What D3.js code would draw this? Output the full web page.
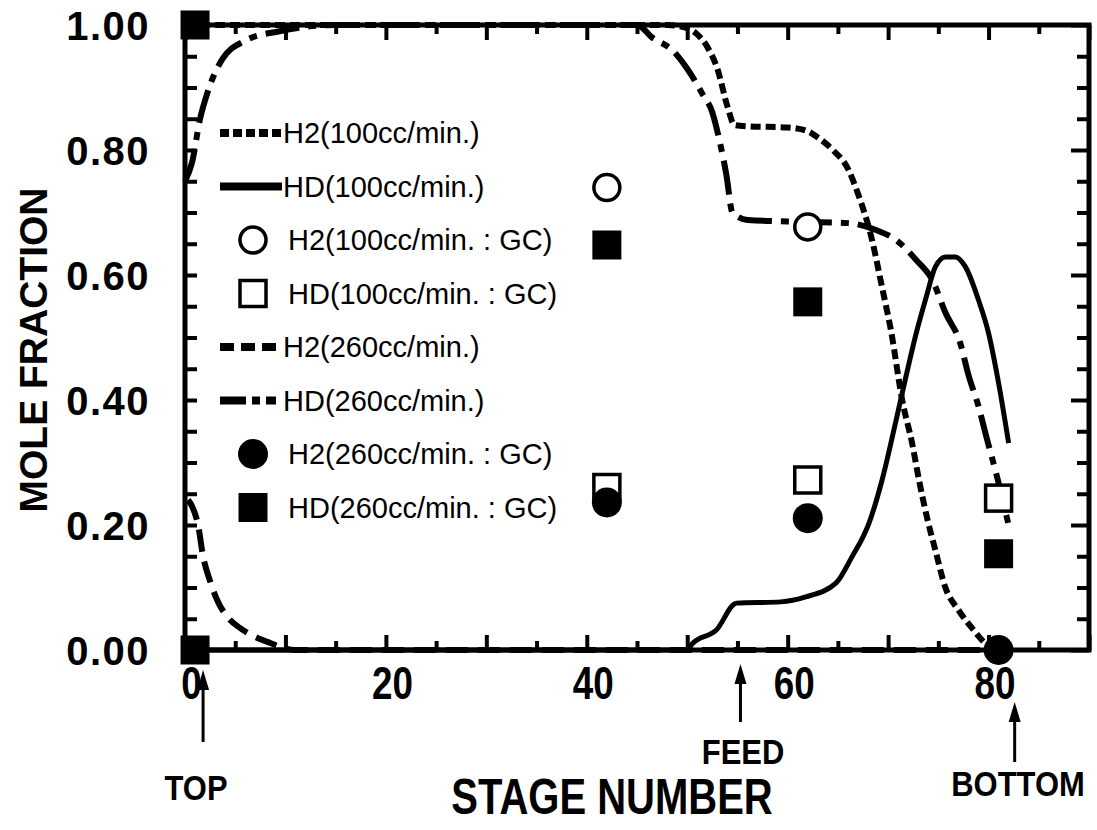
<!DOCTYPE html>
<html>
<head>
<meta charset="utf-8">
<script src="https://cdn.jsdelivr.net/npm/d3@7"></script>
<style>
  body { margin: 0; background: #fff; }
</style>
</head>
<body>
<script>
// curves: [stage, mole fraction]
var h2_100 = [[0,1],[10,1],[20,1],[30,1],[40,1],[48,1],[50,0.995],[51,0.985],[52,0.965],[53,0.93],[54,0.87],[54.7,0.84],
  [56,0.838],[60,0.836],[62,0.83],[63,0.82],[64.5,0.8],[66,0.77],[67,0.73],[68.4,0.656],[69.4,0.58],[70.3,0.51],
  [71.4,0.4],[72.4,0.33],[73.1,0.27],[73.9,0.21],[74.7,0.16],[75.7,0.1],[77,0.064],[78.5,0.032],[79.7,0.01],[80.5,0]];
var hd_100 = [[0,0],[50,0],[50.5,0.01],[52.9,0.032],[54.9,0.075],[59.3,0.077],[61.8,0.085],[64.8,0.107],[66.4,0.149],
  [68.1,0.203],[69.4,0.272],[70.8,0.368],[71.7,0.432],[72.8,0.507],[73.8,0.565],[74.7,0.613],[75.7,0.629],[76.7,0.629],
  [77.7,0.613],[79,0.56],[80,0.507],[81,0.427],[82,0.331]];
var h2_260 = [[0.3,0.24],[0.7,0.23],[1.3,0.2],[1.8,0.15],[2.5,0.11],[3.2,0.08],[4.5,0.048],[5.5,0.035],[8.2,0.013],
  [11,0],[20,0],[30,0],[40,0],[50,0],[60,0],[70,0],[81,0]];
var hd_260 = [[0,0.75],[0.7,0.78],[1.5,0.85],[2.2,0.89],[3.7,0.945],[6,0.975],[9.4,0.99],[15,1],[30,1],[45,1],
  [46.5,0.98],[48.5,0.96],[50,0.93],[51.5,0.89],[52.5,0.86],[53.2,0.816],[53.9,0.76],[54.5,0.7],[56,0.688],[62,0.685],
  [66,0.683],[68.8,0.672],[70.8,0.656],[72.8,0.624],[74.4,0.592],[75.7,0.54],[77.2,0.49],[78,0.44],[79,0.39],
  [79.8,0.34],[80.8,0.28],[82,0.2]];

// GC measurements
var h2_100_gc = [[42,0.74],[62,0.677]];
var hd_100_gc = [[42,0.26],[62,0.272],[81,0.243]];
var h2_260_gc = [[42,0.236],[62,0.211],[81,0]];
var hd_260_gc = [[1,1],[1,0],[42,0.648],[62,0.557],[81,0.154]];

var xTickValues = d3.range(0, 91, 5);
var xLabelValues = [0, 20, 40, 60, 80];
var yTickValues = d3.range(0, 21).map(function(i) { return i * 0.05; });

var legendNames = ['H2(100cc/min.)', 'HD(100cc/min.)', 'H2(100cc/min.  :  GC)', 'HD(100cc/min.  :  GC)',
  'H2(260cc/min.)', 'HD(260cc/min.)', 'H2(260cc/min.  :  GC)', 'HD(260cc/min.  :  GC)'];

var markers = [
  {name: legendNames[0], kind: 'line', data: h2_100, dash: '10,5', legendDash: '9,4'},
  {name: legendNames[1], kind: 'line', data: hd_100, dash: null, legendDash: null},
  {name: legendNames[2], kind: 'circle', data: h2_100_gc, fill: '#fff'},
  {name: legendNames[3], kind: 'square', data: hd_100_gc, fill: '#fff'},
  {name: legendNames[4], kind: 'line', data: h2_260, dash: '22,10', legendDash: '14,7'},
  {name: legendNames[5], kind: 'line', data: hd_260, dash: '34,9,8,9', legendDash: '26,6,8,6,10'},
  {name: legendNames[6], kind: 'circle', data: h2_260_gc, fill: '#000'},
  {name: legendNames[7], kind: 'square', data: hd_260_gc, fill: '#000'}
];

var width = 1097, height = 830;
var svg = d3.select('body').append('svg')
  .attr('width', width)
  .attr('height', height);

var x = d3.scaleLinear().domain([0, 90]).range([185, 1089]);
var y = d3.scaleLinear().domain([0, 1]).range([650, 25]);

var line = d3.line()
  .x(function(d) { return x(d[0]); })
  .y(function(d) { return y(d[1]); })
  .curve(d3.curveMonotoneX);

var plot = svg.append('g');

markers.filter(function(m) { return m.kind === 'line'; }).forEach(function(m) {
  plot.append('path')
    .datum(m.data)
    .attr('d', line)
    .attr('fill', 'none')
    .attr('stroke', '#000')
    .attr('stroke-width', m.dash ? 6 : 5)
    .attr('stroke-dasharray', m.dash);
});

// frame
svg.append('rect')
  .attr('x', x(0)).attr('y', y(1))
  .attr('width', x(90) - x(0)).attr('height', y(0) - y(1))
  .attr('fill', 'none').attr('stroke', '#000').attr('stroke-width', 5);

function styleTicks(g) {
  g.select('.domain').remove();
  g.selectAll('.tick line').attr('stroke-width', 4).attr('stroke', '#000');
  return g;
}

var boldFont = '"Liberation Sans", Arial, Helvetica, sans-serif';

// bottom axis
var gx = svg.append('g').attr('transform', 'translate(0,' + y(0) + ')')
  .call(d3.axisBottom(x).tickValues(xTickValues)
    .tickFormat(function(d) { return xLabelValues.indexOf(d) >= 0 ? d : ''; }));
styleTicks(gx);
gx.selectAll('.tick line').attr('y2', function(d) { return d % 10 === 0 ? -15 : -9; });
gx.selectAll('.tick text')
  .attr('y', 0)
  .attr('dy', 0)
  .attr('transform', 'translate(6,49) scale(0.8,1)')
  .attr('font-family', boldFont)
  .attr('font-weight', 'bold')
  .attr('font-size', 46);

// top axis
var gxt = svg.append('g').attr('transform', 'translate(0,' + y(1) + ')')
  .call(d3.axisTop(x).tickValues(xTickValues).tickFormat(''));
styleTicks(gxt);
gxt.selectAll('.tick line').attr('y2', function(d) { return d % 10 === 0 ? 15 : 9; });

// left axis
var gy = svg.append('g').attr('transform', 'translate(' + x(0) + ',0)')
  .call(d3.axisLeft(y).tickValues(yTickValues)
    .tickFormat(function(d) {
      var r = Math.round(d * 100);
      return r % 20 === 0 ? d3.format('.2f')(d) : '';
    }));
styleTicks(gy);
gy.selectAll('.tick line').attr('x2', 12);
gy.selectAll('.tick text')
  .attr('x', -35)
  .attr('dy', '0.36em')
  .attr('letter-spacing', 1.5)
  .attr('font-family', boldFont)
  .attr('font-weight', 'bold')
  .attr('font-size', 40);

// right axis
var gyr = svg.append('g').attr('transform', 'translate(' + x(90) + ',0)')
  .call(d3.axisRight(y).tickValues(yTickValues).tickFormat(''));
styleTicks(gyr);
gyr.selectAll('.tick line').attr('x2', function(d) {
  return Math.round(d * 100) % 20 === 0 ? -18 : -12;
});

// GC points
markers.filter(function(m) { return m.kind !== 'line'; }).forEach(function(m) {
  var g = svg.append('g');
  if (m.kind === 'circle') {
    g.selectAll('circle').data(m.data).enter().append('circle')
      .attr('cx', function(d) { return x(d[0]); })
      .attr('cy', function(d) { return y(d[1]); })
      .attr('r', m.fill === '#000' ? 15 : 13)
      .attr('fill', m.fill)
      .attr('stroke', '#000')
      .attr('stroke-width', m.fill === '#000' ? 0 : 3.5);
  } else {
    var s = m.fill === '#000' ? 29 : 26;
    g.selectAll('rect').data(m.data).enter().append('rect')
      .attr('x', function(d) { return x(d[0]) - s / 2; })
      .attr('y', function(d) { return y(d[1]) - s / 2; })
      .attr('width', s).attr('height', s)
      .attr('fill', m.fill)
      .attr('stroke', '#000')
      .attr('stroke-width', m.fill === '#000' ? 0 : 3.5);
  }
});

// legend
var legend = svg.append('g');
markers.forEach(function(m, i) {
  var cy = 133 + i * 53.5;
  var row = legend.append('g');
  var tx;
  if (m.kind === 'line') {
    row.append('line')
      .attr('x1', 220).attr('x2', 282)
      .attr('y1', cy).attr('y2', cy)
      .attr('stroke', '#000')
      .attr('stroke-width', 8)
      .attr('stroke-dasharray', m.legendDash);
    tx = 283;
  } else if (m.kind === 'circle') {
    row.append('circle')
      .attr('cx', 253).attr('cy', cy)
      .attr('r', m.fill === '#000' ? 15 : 13)
      .attr('fill', m.fill).attr('stroke', '#000')
      .attr('stroke-width', m.fill === '#000' ? 0 : 3.5);
    tx = 288;
  } else {
    var s = m.fill === '#000' ? 29 : 26;
    row.append('rect')
      .attr('x', 253 - s / 2).attr('y', cy - s / 2)
      .attr('width', s).attr('height', s)
      .attr('fill', m.fill).attr('stroke', '#000')
      .attr('stroke-width', m.fill === '#000' ? 0 : 3.5);
    tx = 288;
  }
  row.append('text')
    .attr('x', tx).attr('y', cy)
    .attr('dy', '0.36em')
    .attr('font-family', boldFont)
    .attr('font-size', 29)
    .text(m.name);
});

// axis titles
svg.append('text')
  .attr('transform', 'translate(47,350) rotate(-90)')
  .attr('text-anchor', 'middle')
  .attr('font-family', boldFont)
  .attr('font-weight', 'bold')
  .attr('font-size', 39)
  .text('MOLE FRACTION');

svg.append('text')
  .attr('transform', 'translate(612,814) scale(0.8,1)')
  .attr('text-anchor', 'middle')
  .attr('font-family', boldFont)
  .attr('font-weight', 'bold')
  .attr('font-size', 50)
  .text('STAGE NUMBER');

// column annotations
var notes = [
  {label: 'TOP', stage: 1.8, tip: 670, tail: 742, textX: 196, textY: 800},
  {label: 'FEED', stage: 55.3, tip: 664, tail: 722, textX: 743, textY: 764},
  {label: 'BOTTOM', stage: 82.6, tip: 702, tail: 762, textX: 1018, textY: 796}
];
notes.forEach(function(n) {
  var cx = x(n.stage);
  svg.append('line')
    .attr('x1', cx).attr('x2', cx)
    .attr('y1', n.tip + 12).attr('y2', n.tail)
    .attr('stroke', '#000').attr('stroke-width', 3);
  svg.append('path')
    .attr('d', 'M' + cx + ',' + n.tip + 'L' + (cx - 6) + ',' + (n.tip + 20) + 'L' + (cx + 6) + ',' + (n.tip + 20) + 'Z')
    .attr('fill', '#000');
  svg.append('text')
    .attr('transform', 'translate(' + n.textX + ',' + n.textY + ') scale(0.86,1)')
    .attr('text-anchor', 'middle')
    .attr('font-family', boldFont)
    .attr('font-weight', 'bold')
    .attr('font-size', 36)
    .text(n.label);
});
</script>
</body>
</html>
